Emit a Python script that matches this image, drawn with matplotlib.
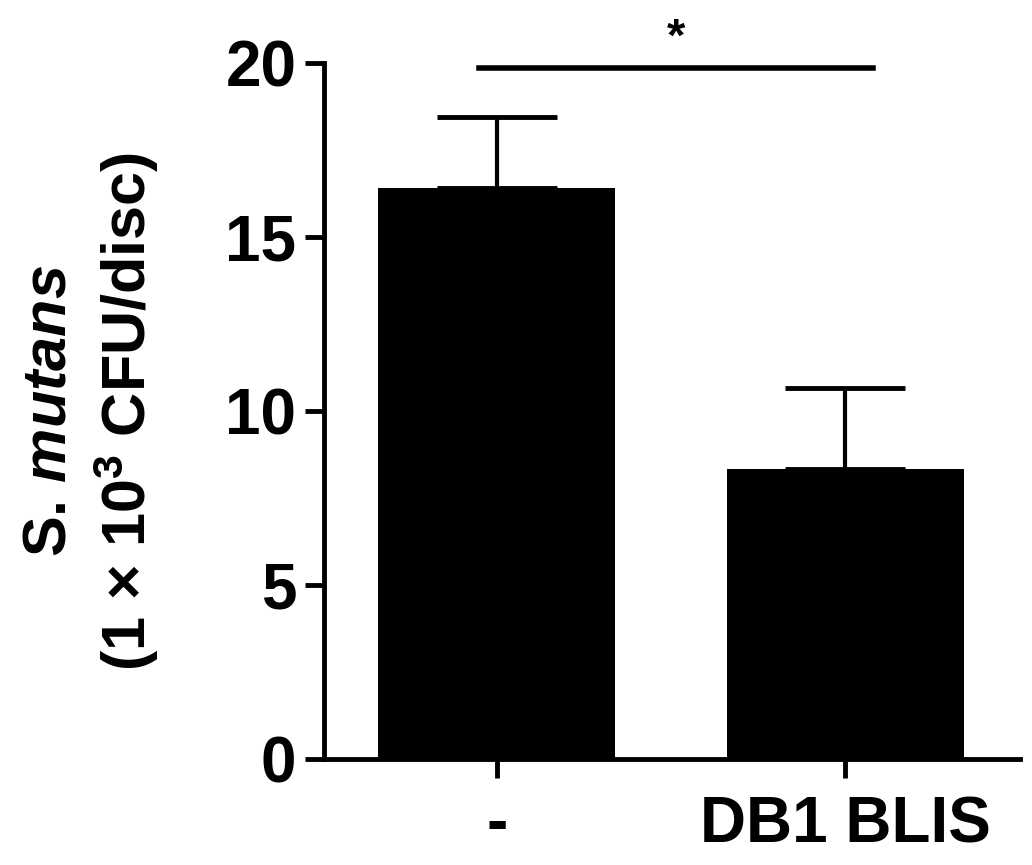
import matplotlib
matplotlib.use("Agg")
import matplotlib.pyplot as plt

# data
groups = ["-", "DB1 BLIS"]
means = [16.4, 8.35]
sem = [2.05, 2.3]
sig_y = 19.85
sig_label = "*"

plt.rcParams['font.family'] = ['Liberation Sans', 'DejaVu Sans']
plt.rcParams['font.weight'] = 'bold'
plt.rcParams['mathtext.fontset'] = 'custom'
plt.rcParams['mathtext.rm'] = 'Liberation Sans'
plt.rcParams['mathtext.it'] = 'Liberation Sans:italic:bold'
plt.rcParams['mathtext.bf'] = 'Liberation Sans:bold'

fig = plt.figure(figsize=(10.32, 8.65), dpi=100)
ax = fig.add_axes([0.314, 0.1225, 0.674, 0.8045])

x = list(range(len(groups)))
ax.bar(x, means, width=0.68, color='black', zorder=2)
ax.errorbar(x, means, yerr=[[0, 0], sem], fmt='none', ecolor='black',
            elinewidth=3, capsize=43, capthick=3.5, zorder=1)

# significance bar
ax.plot([-0.05, 1.08], [sig_y, sig_y], color='black', lw=4, clip_on=False)
ax.text(0.515, 20.35, sig_label, ha='center', va='baseline',
        fontsize=34, fontweight='bold')

ax.set_xlim(-0.496, 1.5)
ax.set_ylim(0, 20)
ax.set_yticks([0, 5, 10, 15, 20])
ax.set_xticks(x)
ax.set_xticklabels(groups)

for s in ['top', 'right']:
    ax.spines[s].set_visible(False)
for s in ['left', 'bottom']:
    ax.spines[s].set_linewidth(3.5)

ax.tick_params(axis='y', length=14, width=3.5, labelsize=46, pad=6)
ax.tick_params(axis='x', length=14, width=3.5, labelsize=46, pad=12)
for lab in ax.get_xticklabels() + ax.get_yticklabels():
    lab.set_fontweight('bold')

ax.set_ylabel("S. $\\mathit{mutans}$\n(1 $\\times$ 10$^{3}$ CFU/disc)",
              fontsize=44, fontweight='bold', labelpad=46, linespacing=1.25)

fig.savefig("out.png", dpi=100)
